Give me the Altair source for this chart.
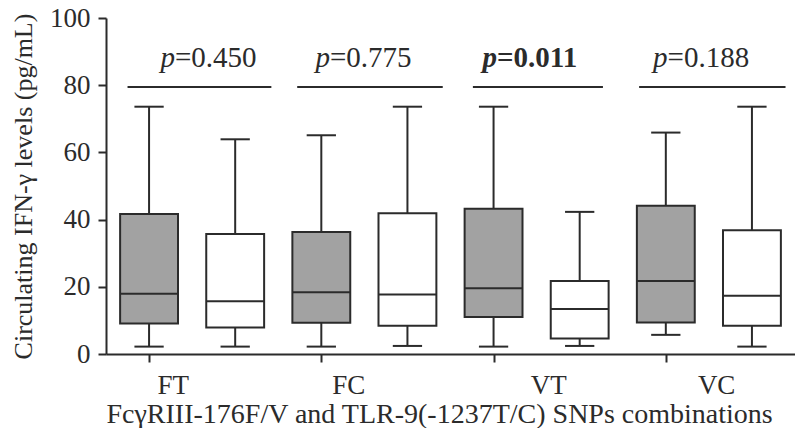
import altair as alt
import pandas as pd

# ---- data ----
groups = ["FT", "FC", "VT", "VC"]
box_kind = ["grey", "white", "grey", "white", "grey", "white", "grey", "white"]
whisker_low = [2.2, 2.2, 2.2, 2.4, 2.2, 2.4, 5.7, 2.2]
q1 = [9.1, 7.9, 9.3, 8.4, 11.0, 4.6, 9.4, 8.4]
median = [17.9, 15.7, 18.4, 17.7, 19.6, 13.4, 21.7, 17.3]
q3 = [41.7, 35.7, 36.3, 41.9, 43.2, 21.7, 44.1, 36.8]
whisker_high = [73.6, 63.9, 65.1, 73.6, 73.6, 42.3, 65.9, 73.6]

p_values = ["=0.450", "=0.775", "=0.011", "=0.188"]
p_bold = [False, False, True, False]
sig_start = [-0.25, 1.72, 3.76, 5.69]
sig_end = [1.42, 3.41, 5.27, 7.39]
sig_level = 79.5
p_anchor = [0.30, 2.10, 4.04, 6.02]
p_text_level = 85.5
label_pos = [0.28, 2.32, 4.64, 6.59]
y_ticks = [0, 20, 40, 60, 80, 100]

FONT = "Liberation Serif"
INK = "#2b2b2b"
HALF_BOX = 0.336
HALF_CAP = 0.17

boxes = pd.DataFrame({
    "pos": list(range(8)),
    "kind": box_kind,
    "low": whisker_low,
    "q1": q1,
    "median": median,
    "q3": q3,
    "high": whisker_high,
})
sig = pd.DataFrame({
    "start": sig_start,
    "end": sig_end,
    "level": [sig_level] * 4,
    "anchor": p_anchor,
    "tlevel": [p_text_level] * 4,
    "ptext": p_values,
    "bold": p_bold,
    "label": groups,
    "lpos": label_pos,
})

xscale = alt.Scale(domain=[-0.5, 7.5], nice=False, zero=False)
yscale = alt.Scale(domain=[0, 100], nice=False, zero=False)

xaxis = alt.Axis(values=[0, 2, 4, 6], labels=False, grid=False, tickSize=8,
                 tickWidth=2, tickColor=INK, domainWidth=2, domainColor=INK,
                 title="FcγRIII-176F/V and TLR-9(-1237T/C) SNPs combinations",
                 titleFont=FONT, titleFontSize=28, titleFontWeight="normal",
                 titleColor=INK, titlePadding=37, titleAnchor="start",
                 titleAlign="left", titleX=0)
yaxis = alt.Axis(values=y_ticks, grid=False, tickSize=8, tickWidth=2,
                 tickColor=INK, domainWidth=2, domainColor=INK,
                 labelFont=FONT, labelFontSize=27, labelColor=INK,
                 labelPadding=8,
                 title="Circulating IFN-γ levels (pg/mL)",
                 titleFont=FONT, titleFontSize=26, titleFontWeight="normal",
                 titleColor=INK, titlePadding=13)

base = alt.Chart(boxes)

whiskers = base.mark_rule(color=INK, strokeWidth=2).encode(
    x=alt.X("pos:Q", scale=xscale, axis=xaxis),
    y=alt.Y("low:Q", scale=yscale, axis=yaxis),
    y2="high:Q",
)

caps = base.transform_fold(["low", "high"], as_=["end", "val"]).transform_calculate(
    xa=f"datum.pos - {HALF_CAP}", xb=f"datum.pos + {HALF_CAP}"
).mark_rule(color=INK, strokeWidth=2).encode(
    x=alt.X("xa:Q", scale=xscale),
    x2="xb:Q",
    y=alt.Y("val:Q", scale=yscale),
)

rects = base.transform_calculate(
    xa=f"datum.pos - {HALF_BOX}", xb=f"datum.pos + {HALF_BOX}"
).mark_rect(stroke=INK, strokeWidth=2).encode(
    x=alt.X("xa:Q", scale=xscale),
    x2="xb:Q",
    y=alt.Y("q1:Q", scale=yscale),
    y2="q3:Q",
    fill=alt.Fill("kind:N", scale=alt.Scale(domain=["grey", "white"],
                                              range=["#a2a2a2", "#ffffff"]),
                  legend=None),
)

medians = base.transform_calculate(
    xa=f"datum.pos - {HALF_BOX}", xb=f"datum.pos + {HALF_BOX}"
).mark_rule(color=INK, strokeWidth=2).encode(
    x=alt.X("xa:Q", scale=xscale),
    x2="xb:Q",
    y=alt.Y("median:Q", scale=yscale),
)

sbase = alt.Chart(sig)

sig_lines = sbase.mark_rule(color=INK, strokeWidth=2).encode(
    x=alt.X("start:Q", scale=xscale),
    x2="end:Q",
    y=alt.Y("level:Q", scale=yscale),
)


def p_layers(weight, test):
    sub = sbase.transform_filter(test)
    letter = sub.transform_calculate(p="'p'").mark_text(
        font=FONT, fontSize=29, fontStyle="italic", fontWeight=weight,
        align="right", baseline="alphabetic", color=INK
    ).encode(
        x=alt.X("anchor:Q", scale=xscale),
        y=alt.Y("tlevel:Q", scale=yscale),
        text="p:N",
    )
    rest = sub.mark_text(
        font=FONT, fontSize=29, fontWeight=weight, align="left",
        baseline="alphabetic", color=INK
    ).encode(
        x=alt.X("anchor:Q", scale=xscale),
        y=alt.Y("tlevel:Q", scale=yscale),
        text="ptext:N",
    )
    return [letter, rest]


p_normal = p_layers("normal", "!datum.bold")
p_strong = p_layers("bold", "datum.bold")

cat_labels = sbase.mark_text(
    font=FONT, fontSize=27, align="center", baseline="alphabetic", color=INK
).encode(
    x=alt.X("lpos:Q", scale=xscale),
    y=alt.value(376),
    text="label:N",
)

chart = alt.layer(
    whiskers, caps, rects, medians, sig_lines, *p_normal, *p_strong, cat_labels
).properties(
    width=689, height=336,
    autosize=alt.AutoSizeParams(type="none"),
    padding={"left": 106, "top": 18, "right": 0, "bottom": 74},
    background="white",
).configure_view(stroke=None)

chart.save("out.html", embed_options={"renderer": "svg", "actions": False})
